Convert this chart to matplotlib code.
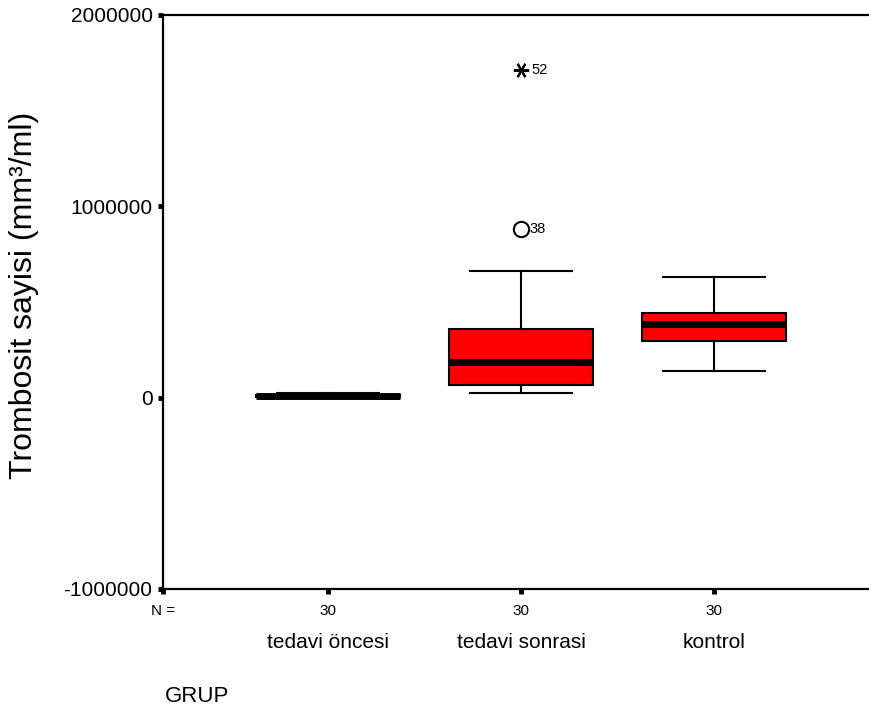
import matplotlib
matplotlib.use("Agg")
import matplotlib.pyplot as plt
from matplotlib.transforms import blended_transform_factory

plt.rcParams['font.family'] = ['Liberation Sans', 'DejaVu Sans']

categories = ["tedavi öncesi", "tedavi sonrasi", "kontrol"]
n_counts = [30, 30, 30]
whislo = [2000, 26000, 141000]
q1 = [5000, 68000, 298000]
med = [9000, 188000, 387000]
q3 = [13000, 360000, 444000]
whishi = [26000, 664000, 632000]
outlier_vals = [883000]
outlier_ids = ["38"]
extreme_vals = [1714000]
extreme_ids = ["52"]
outlier_group = 2
yticks = [-1000000, 0, 1000000, 2000000]

fig = plt.figure(figsize=(8.69, 7.25), dpi=100)
ax = fig.add_axes([163/869, 1 - 589/725, 1 - 163/869, (589 - 15)/725])

stats = []
for i in range(3):
    stats.append(dict(whislo=whislo[i], q1=q1[i], med=med[i], q3=q3[i],
                      whishi=whishi[i], fliers=[]))
pos = [1, 2, 3]
ax.bxp(stats, positions=pos, widths=0.75, capwidths=0.53, patch_artist=True,
       showfliers=False,
       boxprops=dict(facecolor='#ff0000', edgecolor='black', linewidth=1.5),
       medianprops=dict(color='black', linewidth=5, solid_capstyle='butt'),
       whiskerprops=dict(color='black', linewidth=1.5),
       capprops=dict(color='black', linewidth=1.5))

for v, lab in zip(outlier_vals, outlier_ids):
    ax.plot([outlier_group], [v], marker='o', markersize=11, markerfacecolor='white',
            markeredgecolor='black', markeredgewidth=1.5, linestyle='none')
    ax.text(outlier_group + 0.045, v, lab, fontsize=10.5, va='center', ha='left')
for v, lab in zip(extreme_vals, extreme_ids):
    ax.plot([outlier_group], [v], marker=(6, 2, 30), markersize=11,
            markeredgecolor='black', markeredgewidth=1.5, linestyle='none')
    ax.text(outlier_group + 0.055, v, lab, fontsize=10.5, va='center', ha='left')

xl = 1 - (328 - 163) / 193
ax.set_xlim(xl, 3 + (869 - 714) / 193)
ax.set_ylim(-1000000, 2000000)
ax.set_yticks(yticks)
ax.set_yticklabels([str(t) for t in yticks], fontsize=15)
ax.set_xticks([xl] + pos)
ax.set_xticklabels(["N ="] + [str(n) for n in n_counts], fontsize=11)

ax.spines['right'].set_visible(False)
for s in ['left', 'top', 'bottom']:
    ax.spines[s].set_linewidth(1.6)
ax.tick_params(axis='both', direction='out', length=3.5, width=3.5, color='black')
ax.tick_params(axis='y', pad=4)
ax.tick_params(axis='x', pad=7)

trans = blended_transform_factory(ax.transData, fig.transFigure)
for p, c in zip(pos, categories):
    ax.text(p, 1 - 642/725, c, transform=trans, ha='center', va='center', fontsize=15)

fig.text(165/869, 1 - 697/725, "GRUP", ha='left', va='center', fontsize=16)
fig.text(24/869, 1 - 295/725, "Trombosit sayisi (mm³/ml)", rotation=90,
         ha='center', va='center', fontsize=23)

fig.savefig("out.png", dpi=100)
